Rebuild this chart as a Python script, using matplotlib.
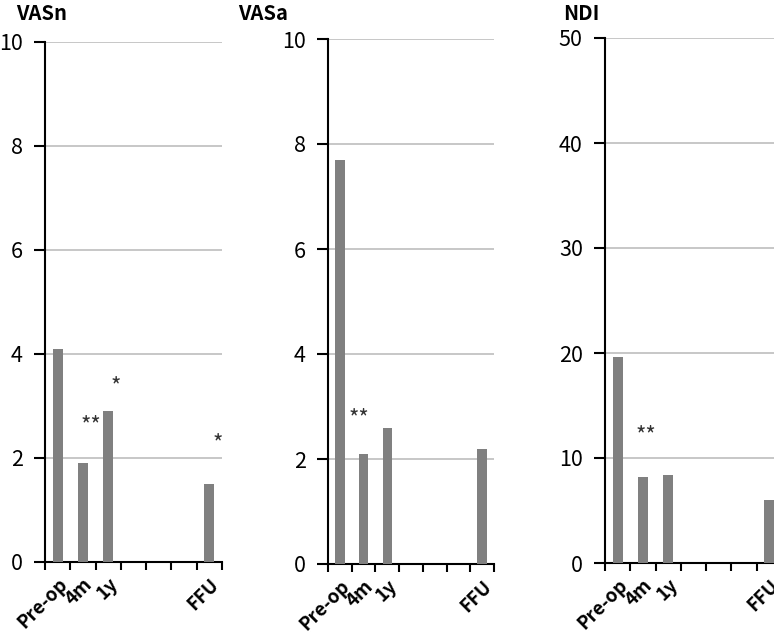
import numpy as np
import matplotlib
matplotlib.use('Agg')
import matplotlib.pyplot as plt
from matplotlib.transforms import ScaledTranslation

plt.rcParams['font.family'] = ['Noto Sans CJK KR', 'DejaVu Sans']

categories = ['Pre-op', '4m', '1y', '', '', '', 'FFU']
vasn = [4.1, 1.9, 2.9, 0, 0, 0, 1.5]
vasa = [7.7, 2.1, 2.6, 0, 0, 0, 2.2]
ndi = [19.6, 8.2, 8.4, 0, 0, 0, 6.0]

# significance marks: (x, y, text)
vasn_marks = [(1.3, 2.4, '**'), (2.3, 3.15, '*'), (6.35, 2.05, '*')]
vasa_marks = [(0.8, 2.55, '**')]
ndi_marks = [(1.1, 11.0, '**')]

panels = [
    ('VASn', vasn, vasn_marks, 10, 2, [45, 42, 222, 562], 6.5, 16),
    ('VASa', vasa, vasa_marks, 10, 2, [328, 39, 494, 564], 6.22, 238),
    ('NDI', ndi, ndi_marks, 50, 10, [605, 38, 782, 563], 6.5, 563),
]

W, H = 774, 632
fig = plt.figure(figsize=(W / 100, H / 100), dpi=100)
shift = ScaledTranslation(6 / 100, 0, fig.dpi_scale_trans)

for title, vals, marks, ymax, ystep, box, xr, tx in panels:
    x0, y0, x1, y1 = box
    ax = fig.add_axes([x0 / W, 1 - y1 / H, (x1 - x0) / W, (y1 - y0) / H])
    x = np.arange(len(categories))
    ax.bar(x, vals, width=0.4, color='#808080', zorder=3)
    ax.set_xlim(-0.5, xr)
    ax.set_ylim(0, ymax)
    ax.set_yticks(np.arange(0, ymax + 0.1, ystep))
    ax.yaxis.grid(True, color='#bdbdbd', linewidth=1.2, zorder=0)
    ax.set_axisbelow(True)
    for s in ['top', 'right']:
        ax.spines[s].set_visible(False)
    for s in ['left', 'bottom']:
        ax.spines[s].set_linewidth(1.5)
        ax.spines[s].set_color('black')
    ax.spines['left'].set_zorder(4)
    ax.set_xticks(x)
    ax.set_xticklabels(categories, rotation=45, ha='right', rotation_mode='anchor',
                       fontsize=13.5, fontweight='bold')
    for lab in ax.get_xticklabels():
        lab.set_transform(lab.get_transform() + shift)
    ax.set_xticks(np.arange(-0.5, 7.0, 1.0), minor=True)
    ax.tick_params(axis='x', which='major', length=0, pad=9)
    ax.tick_params(axis='x', which='minor', length=6, width=1.5, direction='out')
    ax.tick_params(axis='y', length=8, width=1.5, direction='out', pad=8, labelsize=15.5)
    for mx, my, mt in marks:
        ax.text(mx, my, mt, ha='center', va='bottom', fontsize=16, color='#333333')
    fig.text(tx / W, 1 - 13 / H, title, fontsize=14.5, fontweight='bold', va='center', ha='left')

fig.savefig('out.png', dpi=100)
